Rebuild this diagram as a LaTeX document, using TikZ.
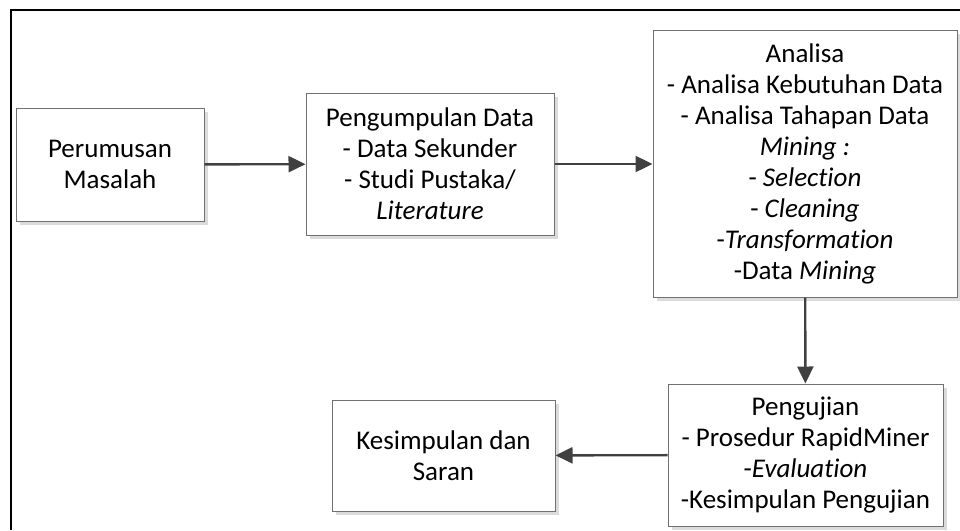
\documentclass[tikz,border=0pt]{standalone}
\usepackage{fontspec}
\setmainfont[Ligatures=NoCommon]{Carlito}
\usetikzlibrary{arrows.meta,shadows}
\definecolor{boxline}{HTML}{707070}
\definecolor{arrowgray}{HTML}{404040}
\tikzset{
  box/.style={draw=boxline, line width=1pt, fill=white, align=center,
    inner sep=0pt, font=\fontsize{27}{31}\selectfont,
    drop shadow={shadow xshift=4pt, shadow yshift=-4pt, fill=black!14, opacity=1}},
  flow/.style={draw=arrowgray, line width=2.4pt, -{Triangle[length=17pt,width=16pt]}}
}
\begin{document}
\begin{tikzpicture}[x=1pt,y=-1pt]
\useasboundingbox (0,0) rectangle (960,530);
\draw[line width=2pt] (11,530) -- (11,9.5) -- (960,9.5);
\node[box, minimum width=188pt, minimum height=113pt] (perumusan) at (110,164.5) {Perumusan\\Masalah};
\node[box, minimum width=248pt, minimum height=142pt] (pengumpulan) at (430,164) {Pengumpulan Data\\- Data Sekunder\\- Studi Pustaka/\\\textit{Literature}};
\node[box, minimum width=304pt, minimum height=267pt] (analisa) at (805,163.5) {Analisa\\- Analisa Kebutuhan Data\\- Analisa Tahapan Data\\\textit{Mining :}\\- \textit{Selection}\\- \textit{Cleaning}\\-\textit{Transformation}\\-Data \textit{Mining}};
\node[box, minimum width=275pt, minimum height=142pt] (pengujian) at (805.5,455) {Pengujian\\- Prosedur RapidMiner\\-\textit{Evaluation}\\-Kesimpulan Pengujian};
\node[box, minimum width=223pt, minimum height=111pt] (kesimpulan) at (443.5,455.5) {Kesimpulan dan\\Saran};
%% arrows
\draw[flow] (perumusan) -- (pengumpulan);
\draw[flow] (pengumpulan) -- (pengumpulan -| analisa.west);
\draw[flow] (analisa) -- (pengujian);
\draw[flow] (pengujian) -- (kesimpulan);
\end{tikzpicture}
\end{document}
